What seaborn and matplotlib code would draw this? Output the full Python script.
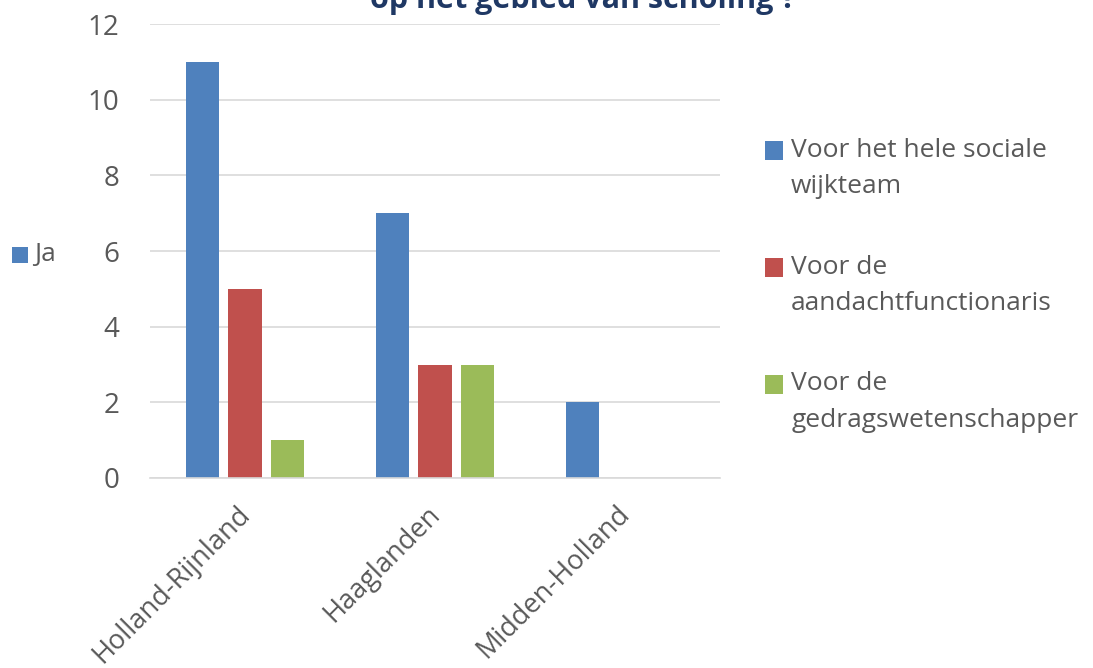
import matplotlib
matplotlib.use("Agg")
import matplotlib.pyplot as plt
import matplotlib.transforms as mtransforms
import seaborn as sns
import pandas as pd
from matplotlib.patches import Patch, Rectangle

regions = ["Holland-Rijnland", "Haaglanden", "Midden-Holland"]
series = ["Voor het hele sociale\nwijkteam", "Voor de\naandachtfunctionaris", "Voor de\ngedragswetenschapper"]
values_team = [11, 7, 2]
values_aandacht = [5, 3, 0]
values_gedrag = [1, 3, 0]
colors = ["#4F81BD", "#C0504D", "#9BBB59"]
y_ticks = [0, 2, 4, 6, 8, 10, 12]

sns.set_theme(style="white")
plt.rcParams['font.family'] = ['Open Sans', 'DejaVu Sans']
txt = "#595959"

df = pd.DataFrame({
    "region": regions * 3,
    "series": [series[0]] * 3 + [series[1]] * 3 + [series[2]] * 3,
    "value": values_team + values_aandacht + values_gedrag,
})

fig = plt.figure(figsize=(10.93, 6.68), dpi=100)
ax = fig.add_axes([150/1093, 1-478/668, 570/1093, (478-24)/668])
sns.barplot(data=df, x="region", y="value", hue="series", palette=colors,
            width=0.67, gap=0.22, ax=ax, legend=False, saturation=1, linewidth=0)
ax.set_xlim(-0.5, 2.5)
ax.set_ylim(0, 12)
ax.set_yticks(y_ticks)
ax.yaxis.grid(True, color="#D9D9D9", linewidth=1.2)
ax.set_axisbelow(True)
for s in ["left", "right", "top"]:
    ax.spines[s].set_visible(False)
ax.spines["bottom"].set_color("#D9D9D9")
ax.spines["bottom"].set_linewidth(1.2)
ax.set_xlabel("")
ax.set_ylabel("")
ax.tick_params(axis="y", labelsize=20, colors=txt, length=0, pad=22)
ax.tick_params(axis="x", labelsize=19.5, colors=txt, length=0, pad=11)
shift = mtransforms.ScaledTranslation(-9/100, -7/100, fig.dpi_scale_trans)
for lab in ax.get_xticklabels():
    lab.set_rotation(45)
    lab.set_ha("right")
    lab.set_rotation_mode("anchor")
    lab.set_transform(lab.get_transform() + shift)

handles = [Patch(facecolor=c, edgecolor="none") for c in colors]
leg = fig.legend(handles, series, loc="upper left", bbox_to_anchor=(741/1093, 1-114/668),
                 frameon=False, fontsize=19, labelcolor=txt, handlelength=0.7, handleheight=0.7,
                 handletextpad=0.3, labelspacing=2.1)
for t in leg.get_texts():
    t.set_linespacing(1.6)
for h in leg.legend_handles:
    h.set_y(h.get_y() + 13)

# "Ja" legend on the left
fig.patches.append(Rectangle((12/1093, 1-263/668), 16/1093, 16/668, transform=fig.transFigure,
                             facecolor=colors[0], edgecolor="none"))
fig.text(34/1093, 1-255/668, "Ja", fontsize=19, color=txt, va="center", ha="left")

# partially visible title at top
fig.text(583/1093, 1-8/668, "op het gebied van scholing ?", fontsize=22, fontweight="bold",
         color="#1F3864", ha="center", va="baseline")

fig.savefig("out.png", dpi=100)
